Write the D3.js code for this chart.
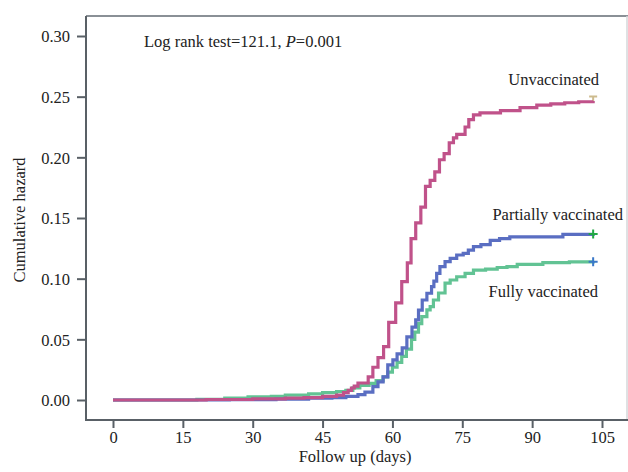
<!DOCTYPE html>
<html>
<head>
<meta charset="utf-8">
<script src="https://cdn.jsdelivr.net/npm/d3@7"></script>
<style>
  html, body { margin: 0; padding: 0; background: #fff; }
  svg { display: block; }
  text { font-family: "Liberation Serif", "Times New Roman", serif; fill: #222; }
</style>
</head>
<body>
<svg id="chart" width="628" height="472"></svg>
<script>
// ---- data ----
const xTicks = [0, 15, 30, 45, 60, 75, 90, 105];
const yTicks = [0.00, 0.05, 0.10, 0.15, 0.20, 0.25, 0.30];
const seriesNames = ["Unvaccinated", "Partially vaccinated", "Fully vaccinated"];

const unvacDays   = [0, 20, 30, 37, 41, 45, 48, 49.5, 50.5, 51.2, 51.8, 52.6, 54.8, 55.8, 56.9, 58.1, 59.2, 60.7, 62, 63.2, 64, 65, 66.1, 67.1, 68.1, 69.1, 70.1, 71.1, 72.2, 73.1, 73.8, 75.6, 76.4, 77.4, 78.8, 83.2, 87.4, 91, 94, 97, 100, 103.1];
const unvacHazard = [0, 0.0004, 0.001, 0.0015, 0.002, 0.003, 0.004, 0.006, 0.008, 0.0099, 0.0115, 0.014, 0.019, 0.027, 0.035, 0.044, 0.064, 0.080, 0.0975, 0.113, 0.133, 0.146, 0.159, 0.176, 0.181, 0.188, 0.198, 0.203, 0.212, 0.216, 0.219, 0.225, 0.231, 0.235, 0.2366, 0.2385, 0.241, 0.243, 0.244, 0.245, 0.2458, 0.2465];

const partialDays   = [0, 25, 35, 42, 47, 50, 52.6, 54.1, 55.8, 56.9, 58, 59, 60.1, 61, 62.1, 63.1, 64.2, 65, 65.6, 66.4, 67.4, 68.4, 68.9, 69.5, 70.2, 71.3, 72.4, 73.8, 75.2, 76.3, 77.4, 79, 81, 83, 85.2, 96.6, 103.1];
const partialHazard = [0, 0.0003, 0.0008, 0.0015, 0.002, 0.003, 0.0045, 0.0065, 0.011, 0.015, 0.019, 0.029, 0.033, 0.038, 0.043, 0.052, 0.060, 0.066, 0.074, 0.0824, 0.088, 0.0934, 0.098, 0.1044, 0.1099, 0.114, 0.1168, 0.1195, 0.1209, 0.1236, 0.1264, 0.128, 0.1315, 0.133, 0.1345, 0.1365, 0.1368];

const fullDays   = [0, 18, 24, 29, 34, 37, 42, 45, 48, 50, 51.5, 53, 55, 56.5, 58, 59, 60, 61, 62, 63, 64.1, 64.8, 65.6, 66.3, 67.4, 68.1, 68.8, 69.9, 71.3, 72.4, 73.8, 75.6, 77.4, 80, 82.5, 84.6, 86.8, 92.3, 98, 103.1];
const fullHazard = [0, 0.0005, 0.0015, 0.0025, 0.003, 0.004, 0.005, 0.006, 0.007, 0.008, 0.010, 0.012, 0.0137, 0.016, 0.019, 0.023, 0.027, 0.031, 0.036, 0.042, 0.050, 0.056, 0.063, 0.0687, 0.0742, 0.0769, 0.0824, 0.0882, 0.0964, 0.0989, 0.1016, 0.1044, 0.1071, 0.1078, 0.1092, 0.110, 0.1118, 0.1132, 0.1138, 0.1140];

// ---- layout ----
const svg = d3.select("#chart");
const W = 628, H = 472;
const frame = { left: 86, top: 16, right: 627, bottom: 420 };
const x = d3.scaleLinear().domain([0, 105]).range([113, 602]);
const y = d3.scaleLinear().domain([0, 0.30]).range([400, 36]);
const FS = "16.5px";

svg.append("rect").attr("width", W).attr("height", H).attr("fill", "#fff");

// frame: top line grey, right edge faint
svg.append("path")
  .attr("d", `M${frame.left},${frame.top}H${W}`)
  .attr("fill", "none").attr("stroke", "#8a9096").attr("stroke-width", 2);
svg.append("path")
  .attr("d", `M${frame.right},${frame.top}V${frame.bottom}`)
  .attr("fill", "none").attr("stroke", "#d4d7da").attr("stroke-width", 1.5);
svg.append("path")
  .attr("d", `M${frame.left},${frame.top}V${frame.bottom}H${W}`)
  .attr("fill", "none").attr("stroke", "#596066").attr("stroke-width", 2);

// axes
const yAxis = d3.axisLeft(y).tickValues(yTicks).tickFormat(d3.format(".2f")).tickSize(9).tickPadding(7);
const gy = svg.append("g").attr("transform", `translate(${frame.left},0)`).call(yAxis);
gy.select(".domain").remove();
gy.selectAll(".tick line").attr("stroke", "#596066").attr("stroke-width", 2);
gy.selectAll(".tick text").attr("font-size", FS).attr("font-family", "Liberation Serif").attr("fill", "#222").attr("dy", "0.36em");

const xAxis = d3.axisBottom(x).tickValues(xTicks).tickFormat(d3.format("d")).tickSize(8).tickPadding(3);
const gx = svg.append("g").attr("transform", `translate(0,${frame.bottom})`).call(xAxis);
gx.select(".domain").remove();
gx.selectAll(".tick line").attr("stroke", "#596066").attr("stroke-width", 2);
gx.selectAll(".tick text").attr("font-size", FS).attr("font-family", "Liberation Serif").attr("fill", "#222");

// axis titles
svg.append("text").attr("x", 355).attr("y", 462).attr("text-anchor", "middle")
  .attr("font-size", FS).text("Follow up (days)");
svg.append("text").attr("transform", "translate(25,220) rotate(-90)").attr("text-anchor", "middle")
  .attr("font-size", FS).text("Cumulative hazard");

// annotation
const ann = svg.append("text").attr("x", 144).attr("y", 47).attr("font-size", FS);
ann.append("tspan").text("Log rank test=121.1, ");
ann.append("tspan").attr("font-style", "italic").text("P");
ann.append("tspan").text("=0.001");

// curves
const line = d3.line().curve(d3.curveStepAfter).x(d => x(d[0])).y(d => y(d[1]));
const series = [
  { name: seriesNames[2], days: fullDays, vals: fullHazard, color: "#62c394", censor: "#3a78c8" },
  { name: seriesNames[1], days: partialDays, vals: partialHazard, color: "#5a6ec2", censor: "#22a845" },
  { name: seriesNames[0], days: unvacDays, vals: unvacHazard, color: "#c0528a", censor: "#cdbb8e" }
];

series.forEach(s => {
  const pts = s.days.map((d, i) => [d, s.vals[i]]);
  const last = pts[pts.length - 1];
  if (s.name === "Unvaccinated") {
    svg.append("path")
      .attr("d", `M${x(last[0]) - 4},${y(last[1]) - 4.5}H${x(last[0]) + 4}M${x(last[0])},${y(last[1]) - 4.5}V${y(last[1])}`)
      .attr("stroke", s.censor).attr("stroke-width", 2).attr("fill", "none");
  }
  svg.append("path").datum(pts).attr("d", line)
    .attr("fill", "none").attr("stroke", s.color).attr("stroke-width", 3.2)
    .attr("stroke-linejoin", "miter").attr("stroke-linecap", "butt");
  if (s.name !== "Unvaccinated") {
    const cy = y(last[1]);
    const cx = x(last[0]);
    svg.append("path")
      .attr("d", `M${cx - 4.5},${cy}H${cx + 4.5}M${cx},${cy - 4.5}V${cy + 4.5}`)
      .attr("stroke", s.censor).attr("stroke-width", 2).attr("fill", "none");
  }
});

// series labels
svg.append("text").attr("x", 599).attr("y", 85).attr("text-anchor", "end").attr("font-size", FS).text(seriesNames[0]);
svg.append("text").attr("x", 623).attr("y", 220).attr("text-anchor", "end").attr("font-size", FS).text(seriesNames[1]);
svg.append("text").attr("x", 598).attr("y", 297).attr("text-anchor", "end").attr("font-size", FS).text(seriesNames[2]);
</script>
</body>
</html>
